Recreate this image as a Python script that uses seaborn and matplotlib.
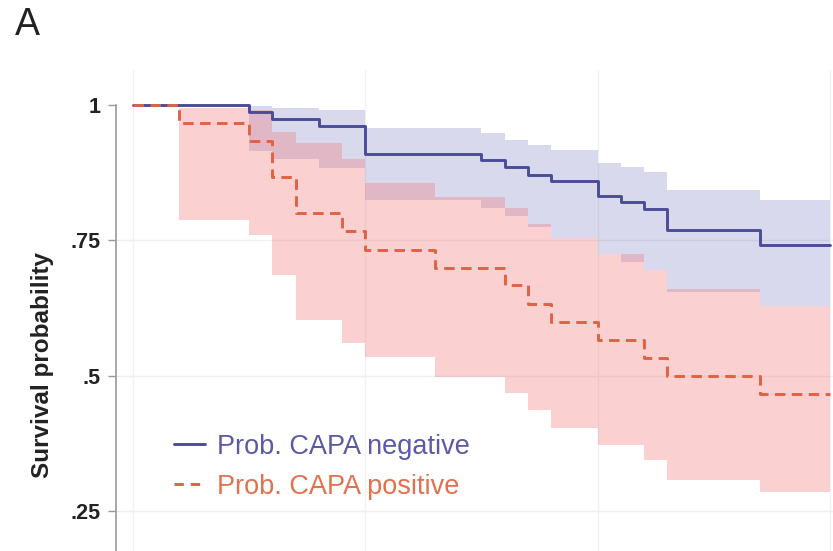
import matplotlib
matplotlib.use("Agg")
import matplotlib.pyplot as plt
from matplotlib.lines import Line2D
import numpy as np
import pandas as pd
import seaborn as sns

# Kaplan-Meier estimates by CAPA status (time in days)
times_neg = [0, 5, 6, 8, 10, 15, 16, 17, 18, 20, 21, 22, 23, 27, 30]
surv_neg = [1, .987, .974, .961, .910, .899, .886, .871, .860, .832, .821, .808, .769, .742, .742]
lo_neg = [1, .915, .90, .884, .825, .81, .795, .775, .755, .725, .71, .695, .655, .63, .63]
hi_neg = [1, .998, .995, .99, .958, .948, .935, .926, .917, .893, .886, .876, .843, .825, .825]

times_pos = [0, 2, 5, 6, 7, 9, 10, 13, 16, 17, 18, 20, 22, 23, 27, 30]
surv_pos = [1, .967, .933, .867, .80, .767, .733, .70, .667, .633, .60, .567, .533, .50, .467, .467]
lo_pos = [1, .788, .76, .686, .603, .561, .535, .498, .469, .437, .404, .373, .345, .308, .286, .286]
hi_pos = [1, .995, .99, .95, .93, .90, .856, .83, .81, .78, .755, .725, .695, .66, .63, .63]

labels = ["Prob. CAPA negative", "Prob. CAPA positive"]
y_ticks = [1, .75, .5, .25]
y_ticklabels = ["1", ".75", ".5", ".25"]
x_grid = [0, 10, 20, 30]

line_neg = "#4b4c98"
line_pos = "#df6244"
text_neg = "#5a5aa6"
text_pos = "#e2714e"

df = pd.concat([
    pd.DataFrame({"time": times_neg, "surv": surv_neg, "group": labels[0]}),
    pd.DataFrame({"time": times_pos, "surv": surv_pos, "group": labels[1]}),
], ignore_index=True)

sns.set_theme(style="white")
plt.rcParams["font.family"] = ["Liberation Sans", "DejaVu Sans"]

fig = plt.figure(figsize=(8.33, 5.51), dpi=100)
W, H = 833, 551
ax = fig.add_axes([116 / W, 0, (W - 116) / W, 481 / H])

ax.set_xlim(-0.73, 30.13)
ax.set_ylim(0.177, 1.0646)

# faint grid
for g in x_grid:
    ax.axvline(g, color="#f1f1f1", lw=1.0, zorder=0)
for t in y_ticks[1:]:
    ax.axhline(t, color="#efefef", lw=1.0, zorder=0)

# confidence bands
ax.fill_between(times_neg, lo_neg, hi_neg, step="post",
                color=(0.33, 0.33, 0.68), alpha=0.22, lw=0, zorder=1)
ax.fill_between(times_pos, lo_pos, hi_pos, step="post",
                color=(0.94, 0.45, 0.45), alpha=0.33, lw=0, zorder=1)

sns.lineplot(data=df, x="time", y="surv", hue="group", style="group",
             palette={labels[0]: line_neg, labels[1]: line_pos},
             dashes={labels[0]: "", labels[1]: (3.6, 2.2)},
             drawstyle="steps-post", estimator=None, sort=False,
             legend=False, lw=2.1, ax=ax, zorder=3)

# axes styling
for s in ["top", "right", "bottom"]:
    ax.spines[s].set_visible(False)
ax.spines["left"].set_color("#9a9a9a")
ax.spines["left"].set_linewidth(1.2)
ax.spines["left"].set_bounds(0.177, 1.0)
ax.set_xticks([])
ax.set_yticks(y_ticks)
ax.set_yticklabels(y_ticklabels, fontsize=15.5, fontweight="bold", color="#222222")
ax.tick_params(axis="y", which="major", left=True, length=6, width=1.0,
               color="#9a9a9a", pad=5)
ax.set_xlabel("")
ax.set_ylabel("")

fig.text(43 / W, 1 - 365 / H, "Survival probability", rotation=90,
         ha="center", va="center", fontsize=17.5, fontweight="bold", color="#222222")
fig.text(27 / W, 1 - 25 / H, "A", ha="center", va="center",
         fontsize=27, color="#222222")

handles = [Line2D([], [], color=line_neg, lw=2.1),
           Line2D([], [], color=line_pos, lw=2.1, dashes=(3.2, 2.4))]
leg = ax.legend(handles, labels, loc="upper left",
                bbox_to_anchor=((160 - 116) / (W - 116), (551 - 420) / 481),
                frameon=False, fontsize=19.5, handlelength=1.15,
                handletextpad=0.45, labelspacing=0.52, borderpad=0,
                labelcolor=[text_neg, text_pos])

fig.savefig("out.png", dpi=100)
